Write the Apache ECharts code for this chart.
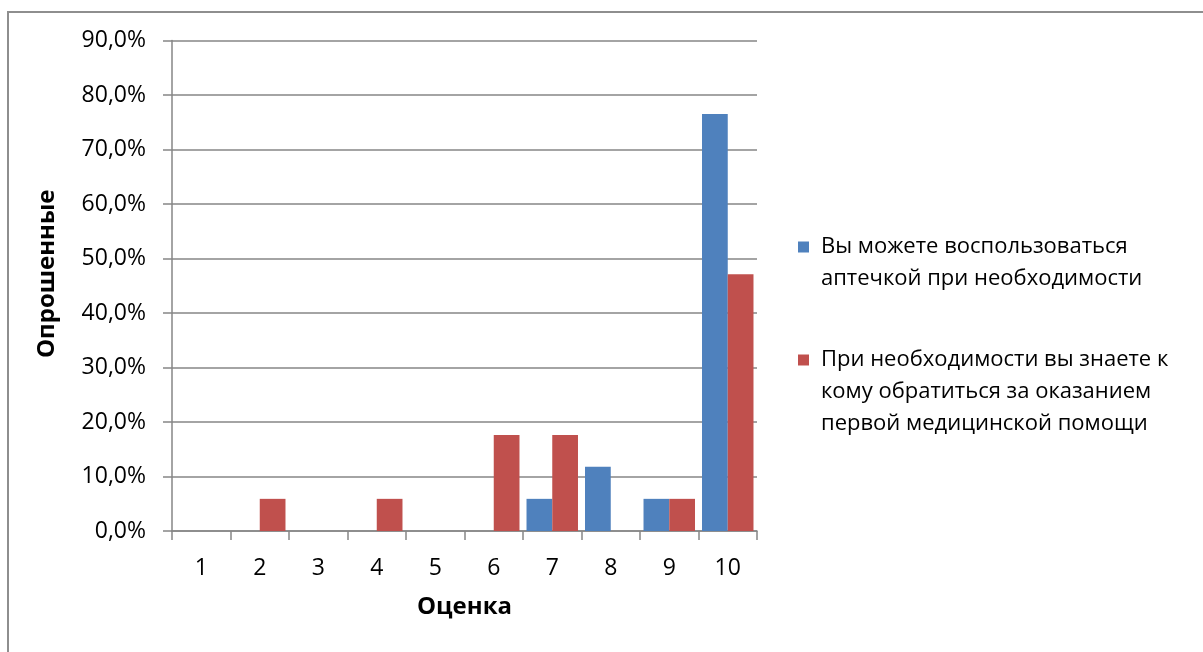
<!DOCTYPE html>
<html>
<head>
<meta charset="utf-8">
<script src="https://cdn.jsdelivr.net/npm/echarts@6/dist/echarts.min.js"></script>
<style>
  html, body { margin: 0; padding: 0; background: #fff; overflow: hidden; }
  #frame {
    position: absolute; left: 7px; top: 11px; width: 1400px; height: 900px;
    border: 2px solid #8e8e8e; box-sizing: border-box;
  }
  #chart { position: absolute; left: 0; top: 0; width: 1203px; height: 652px; }
</style>
</head>
<body>
<div id="frame"></div>
<div id="chart"></div>
<script>
const scores = ["1", "2", "3", "4", "5", "6", "7", "8", "9", "10"];
// доля опрошенных, %
const firstAidKit = [0, 0, 0, 0, 0, 0, 5.9, 11.8, 5.9, 76.5];
const knowWhomToAsk = [0, 5.9, 0, 5.9, 0, 17.6, 17.6, 0, 5.9, 47.1];

const nameKit = "Вы можете воспользоваться\nаптечкой при необходимости";
const nameAsk = "При необходимости вы знаете к\nкому обратиться за оказанием\nпервой медицинской помощи";

const font = "Open Sans";
const gridColor = "#868686";
const pct = (v) => v.toFixed(1).replace(".", ",") + "%";

// marker sits on the first line: pad the label with blank lines above
const topAligned = (name) => "\n".repeat(name.split("\n").length - 1) + name;

const legendBase = {
  orient: "vertical",
  left: 798,
  padding: 0,
  itemWidth: 11,
  itemHeight: 11,
  icon: "rect",
  formatter: topAligned,
  textStyle: {
    color: "#000",
    fontFamily: font,
    fontSize: 22,
    lineHeight: 32,
    padding: [0, 0, 0, 7],
  },
};

const chart = echarts.init(document.getElementById("chart"), null, { renderer: "canvas" });

chart.setOption({
  animation: false,
  color: ["#4F81BD", "#C0504D"],
  grid: { left: 172, right: 446, top: 40.5, bottom: 121 },
  legend: [
    Object.assign({}, legendBase, { data: [nameKit], top: 199 }),
    Object.assign({}, legendBase, { data: [nameAsk], top: 280 }),
  ],
  xAxis: {
    type: "category",
    data: scores,
    name: "Оценка",
    nameLocation: "middle",
    nameGap: 64,
    nameTextStyle: { fontFamily: font, fontSize: 24, fontWeight: "bold", color: "#000" },
    axisLine: { lineStyle: { color: gridColor, width: 1.5 } },
    axisTick: { show: true, length: 9, lineStyle: { color: gridColor, width: 1.5 } },
    axisLabel: { color: "#000", fontFamily: font, fontSize: 23, margin: 26 },
  },
  yAxis: {
    type: "value",
    min: 0,
    max: 90,
    interval: 10,
    name: "Опрошенные",
    nameLocation: "middle",
    nameGap: 113,
    nameTextStyle: {
      fontFamily: font, fontSize: 24, fontWeight: "bold", color: "#000",
      padding: [0, 0, 0, 24],
    },
    axisLine: { show: true, lineStyle: { color: gridColor, width: 1.5 } },
    axisTick: { show: true, length: 9, lineStyle: { color: gridColor, width: 1.5 } },
    axisLabel: { color: "#000", fontFamily: font, fontSize: 23, margin: 26, formatter: pct },
    splitLine: { lineStyle: { color: gridColor, width: 1.5 } },
  },
  series: [
    {
      name: nameKit,
      type: "bar",
      data: firstAidKit,
      barGap: "0%",
      barCategoryGap: "12%",
    },
    {
      name: nameAsk,
      type: "bar",
      data: knowWhomToAsk,
      barGap: "0%",
      barCategoryGap: "12%",
    },
  ],
});
</script>
</body>
</html>
